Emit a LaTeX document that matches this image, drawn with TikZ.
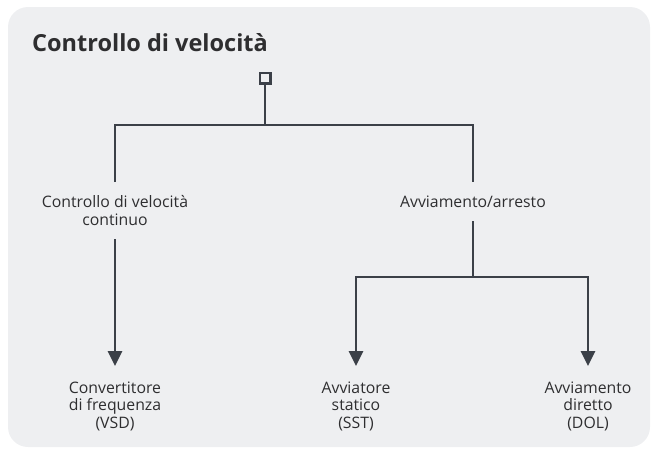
\documentclass[tikz,border=0pt]{standalone}
\usepackage{fontspec}
\setmainfont{Open Sans}
\usetikzlibrary{arrows.meta}
\definecolor{panel}{HTML}{EEEFF1}
\definecolor{wire}{HTML}{3B4048}
\definecolor{ink}{HTML}{2E2E30}
\tikzset{
  txt_n/.style = {align=center, inner xsep=0pt, text=ink,
    font=\fontsize{15.8}{17.5}\selectfont},% testo generico
  mid_n/.style = {txt_n, anchor=north, inner ysep=13.5pt},% nodo intermedio
  leaf_n/.style = {txt_n, anchor=north, inner ysep=15.5pt},% nodo foglia
  root_n/.style = {rectangle, draw=wire, line width=2.5pt, fill=panel,
    minimum size=10.5pt, inner sep=0pt},% radice
  title_n/.style = {anchor=base west, inner sep=0pt, text=ink,
    font=\fontsize{23.5}{27}\selectfont\bfseries},
  wire_e/.style = {draw=wire, line width=2.8pt},
  arr_e/.style = {wire_e, -{Triangle[length=15pt,width=14pt]}}
}

\begin{document}
\begin{tikzpicture}[x=1pt, y=-1pt]
  \useasboundingbox (0,0) rectangle (653,450);
  \fill[panel, rounded corners=20pt] (8,7) rectangle (650,447);
  \node [title_n] (title) at (32,51) {Controllo di velocità};
  % albero
  \node [root_n] (root) at (265,78) {};
  \coordinate (bus) at (265,125);
  \node [mid_n] (cont) at (115,182) {Controllo di velocità\\continuo};
  \node [mid_n] (ss) at (473,182) {Avviamento/arresto};
  \coordinate (split) at (473,277);
  \node [leaf_n] (vsd) at (115,366) {Convertitore\\di frequenza\\(VSD)};
  \node [leaf_n] (sst) at (356,366) {Avviatore\\statico\\(SST)};
  \node [leaf_n] (dol) at (588,366) {Avviamento\\diretto\\(DOL)};
  % collegamenti
  \draw [wire_e] (root.south) -- (bus);
  \draw [wire_e] (cont.north) |- (bus) -| (ss.north);
  \draw [arr_e] (cont.south) -- (vsd.north);
  \draw [wire_e] (ss.south) -- (split);
  \draw [arr_e] (split) -| (sst.north);
  \draw [arr_e] (split) -| (dol.north);
\end{tikzpicture}
\end{document}
